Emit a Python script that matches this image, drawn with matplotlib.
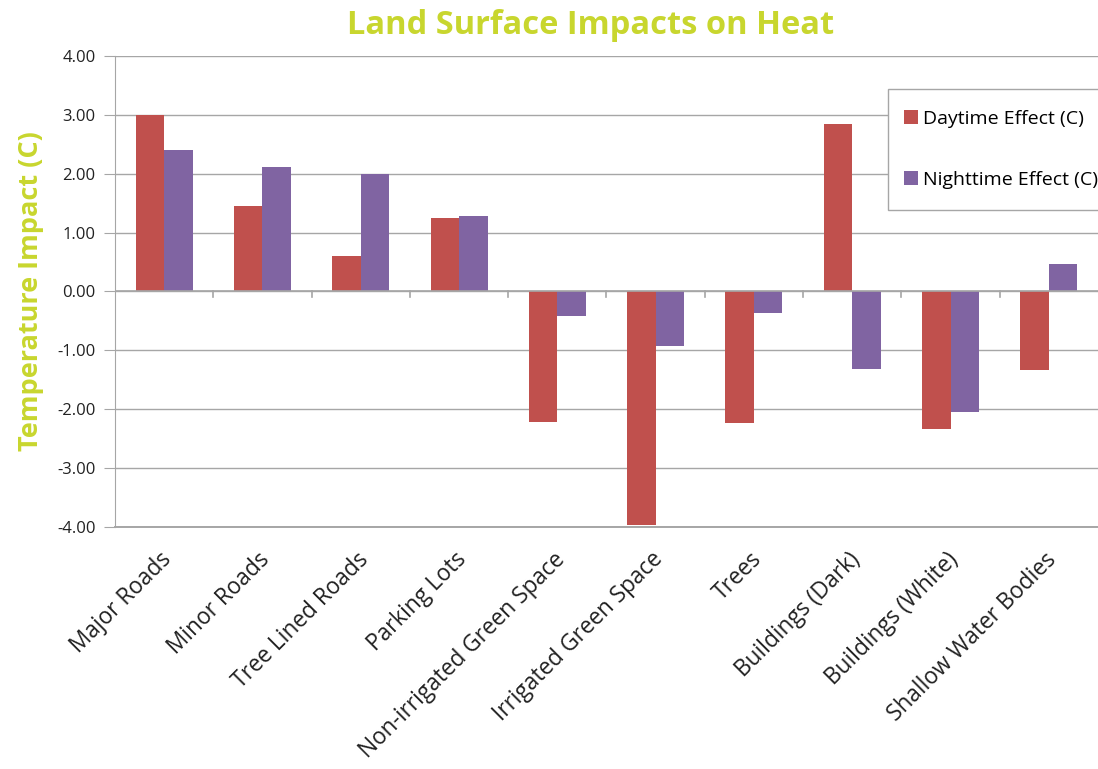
import matplotlib
matplotlib.use("Agg")
import matplotlib.pyplot as plt
from matplotlib.patches import Rectangle
import matplotlib.transforms as mtransforms
import numpy as np

categories = ["Major Roads", "Minor Roads", "Tree Lined Roads", "Parking Lots",
              "Non-irrigated Green Space", "Irrigated Green Space", "Trees",
              "Buildings (Dark)", "Buildings (White)", "Shallow Water Bodies"]
daytime = [3.00, 1.46, 0.61, 1.24, -2.22, -3.97, -2.24, 2.85, -2.34, -1.34]
nighttime = [2.40, 2.11, 2.00, 1.29, -0.41, -0.92, -0.37, -1.31, -2.04, 0.46]
yticks = [-4, -3, -2, -1, 0, 1, 2, 3, 4]

plt.rcParams['font.family'] = ['Open Sans', 'DejaVu Sans']

RED = '#c0504d'
PURPLE = '#8064a2'
GREEN = '#c8d62e'
GRID = '#a6a6a6'

fig = plt.figure(figsize=(10.98, 7.69), dpi=100)
ax = fig.add_axes([0.1047, 0.3147, 0.8953, 0.6125])

x = np.arange(len(categories))
w = 0.29
ax.bar(x - w/2, daytime, w, color=RED, label='Daytime Effect (C)', zorder=3)
ax.bar(x + w/2, nighttime, w, color=PURPLE, label='Nighttime Effect (C)', zorder=3)

ax.set_xlim(-0.5, len(categories) - 0.5)
ax.set_ylim(-4, 4)
ax.set_yticks(yticks)
ax.set_yticklabels([f"{v:.2f}" for v in yticks], fontsize=12, color='#222222')
ax.grid(axis='y', color=GRID, linewidth=1.0, zorder=0)
ax.tick_params(axis='y', length=8, color=GRID, pad=6)

for s in ['top', 'right', 'bottom']:
    ax.spines[s].set_visible(False)
ax.spines['left'].set_color(GRID)
ax.axhline(-4, color=GRID, linewidth=1.4, zorder=4, clip_on=False)

# zero axis with category-boundary ticks
ax.axhline(0, color=GRID, linewidth=1.2, zorder=4)
for b in np.arange(0.5, len(categories) - 0.5, 1.0):
    ax.plot([b, b], [0, -0.09], color=GRID, linewidth=1.2, zorder=4, clip_on=False)

ax.set_xticks(x)
ax.set_xticklabels(categories, rotation=45, ha='right', va='center',
                   rotation_mode='anchor', fontsize=16.3, color='#222222')
ax.tick_params(axis='x', length=0, pad=21)
shift = mtransforms.ScaledTranslation(4 / 100, 0, fig.dpi_scale_trans)
for lab in ax.get_xticklabels():
    lab.set_transform(lab.get_transform() + shift)

ax.set_ylabel('Temperature Impact (C)', fontsize=19.5, fontweight='bold', color=GREEN)
ax.yaxis.set_label_coords(-0.072, 0.5)
fig.text(0.5375, 0.967, 'Land Surface Impacts on Heat', ha='center', va='center',
         fontsize=23.5, fontweight='bold', color=GREEN)

# legend frame drawn as a rectangle, legend itself frameless
fig.patches.append(Rectangle((888 / 1098, 1 - 210 / 769), 0.25, 121 / 769,
                             transform=fig.transFigure, facecolor='white',
                             edgecolor=GRID, linewidth=1.0, zorder=5))
leg = fig.legend(loc='upper left', bbox_to_anchor=(904 / 1098, 1 - 110 / 769),
                 frameon=False, fontsize=14, handlelength=0.7,
                 handleheight=0.7, handletextpad=0.3, labelspacing=2.2,
                 borderpad=0, borderaxespad=0)
leg.set_zorder(6)

fig.savefig('out.png', dpi=100, facecolor='white')
